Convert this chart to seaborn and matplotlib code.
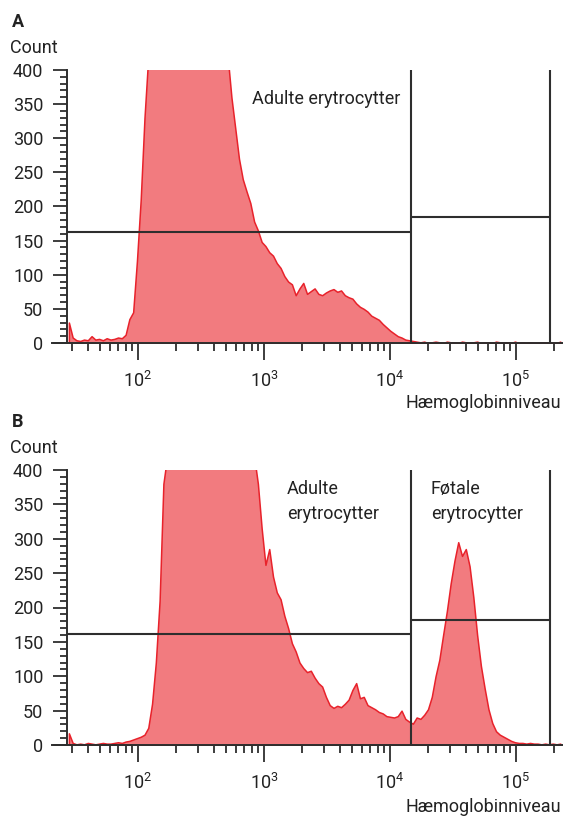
import numpy as np
import pandas as pd
import matplotlib
matplotlib.use("Agg")
import matplotlib.pyplot as plt
import seaborn as sns

# histogram bins: equal steps in log10(haemoglobin level)
log_start = 1.437
log_step = 0.03

# panel A: adult blood only (counts per bin, values above 400 are off scale)
counts_a = [30, 8, 4, 3, 5, 4, 10, 5, 6, 4, 7, 5, 6, 8, 7, 12, 35, 45, 120, 210, 330,
            420, 420, 420, 420, 420, 420, 420, 420, 420, 420, 420,
            420, 420, 420, 420, 420, 420, 420, 420, 420, 420, 420,
            360, 315, 270, 240, 222, 205, 178, 165, 148, 142, 133, 128, 117, 110,
            98, 90, 86, 70, 80, 88, 72, 76, 80, 72, 70, 74, 77, 79, 75, 77, 70,
            67, 65, 58, 53, 50, 46, 40, 37, 34, 28, 23, 18, 14, 10, 8, 5, 4, 3,
            2, 1, 2, 0, 1, 2, 1, 0, 2, 1, 1, 0, 2, 1, 0, 1, 2, 0, 1, 1,
            0, 2, 1, 0, 1, 0, 2, 0, 1, 0, 1, 0, 0, 1, 1, 0, 0, 0, 2]

# panel B: blood with foetal cells
counts_b = [17, 3, 1, 2, 1, 3, 2, 1, 2, 3, 2, 2, 3, 4, 3, 5, 6, 8, 10, 12, 15, 25,
            60, 120, 210, 380,
            420, 420, 420, 420, 420, 420, 420, 420, 420, 420, 420, 420,
            420, 420, 420, 420, 420, 420, 420, 420, 420, 420, 420, 420,
            380, 315, 262, 285, 245, 222, 212, 188, 170, 148, 136, 120, 112, 106,
            108, 98, 90, 85, 70, 58, 54, 57, 55, 60, 66, 80, 90, 68, 70, 58,
            55, 52, 48, 46, 42, 41, 40, 42, 50, 38, 34, 31, 40, 38, 44, 52,
            70, 100, 124, 160, 195, 235, 268, 295, 275, 285, 260, 215, 160, 115,
            82, 52, 32, 20, 15, 12, 9, 6, 4, 3, 3, 2, 3, 2, 2, 1, 2, 1, 2, 1, 2]

# gates
gate_split = 1.46e4
gate_end = 1.87e5
gate_level_a = [163, 185]
gate_level_b = [161, 182]

y_max = 400
x_labels = [2, 3, 4, 5]

fill_col = "#F27B7F"
edge_col = "#E8222B"
line_col = "#2E2E2E"
text_col = "#222222"

sns.set_style("ticks")
plt.rcParams["font.family"] = ["Roboto", "DejaVu Sans"]
plt.rcParams["mathtext.fontset"] = "custom"
plt.rcParams["mathtext.rm"] = "Roboto"
plt.rcParams["mathtext.it"] = "Roboto:italic"
plt.rcParams["mathtext.bf"] = "Roboto:bold"

W, H = 563, 816
fig = plt.figure(figsize=(W / 100, H / 100), dpi=100)

x_lo = log_start - 15 / 126
x_hi = log_start + 496 / 126

minor_x = np.log10(np.concatenate([np.arange(2, 10) * 10.0 ** d for d in range(1, 6)]))
minor_x = minor_x[(minor_x > log_start) & (minor_x < x_hi)]


def panel(ax, counts, levels):
    edges = log_start + log_step * np.arange(len(counts) + 1)
    df = pd.DataFrame({"level": (edges[:-1] + edges[1:]) / 2, "count": counts})
    sns.histplot(data=df, x="level", weights="count", bins=list(edges), element="poly",
                 fill=True, facecolor=fill_col, edgecolor=edge_col, linewidth=1.1,
                 alpha=1, ax=ax, zorder=1)

    g1, g2 = np.log10(gate_split), np.log10(gate_end)
    ax.vlines([g1, g2], 0, y_max, color=line_col, lw=1.5, zorder=3)
    ax.hlines(levels, [log_start, g1], [g1, g2], color=line_col, lw=1.5, zorder=3)

    ax.set_xlim(x_lo, x_hi)
    ax.set_ylim(0, y_max)
    ax.set_xlabel("")
    ax.set_ylabel("")
    sns.despine(ax=ax)
    ax.spines["left"].set_position(("data", log_start))
    for s in ["left", "bottom"]:
        ax.spines[s].set_linewidth(1.4)
        ax.spines[s].set_color(line_col)

    ax.set_xticks(x_labels)
    ax.set_xticklabels([f"$10^{{{v}}}$" for v in x_labels])
    ax.set_xticks(minor_x, minor=True)
    ax.set_yticks(np.arange(0, y_max + 1, 50))
    ax.set_yticks(np.arange(0, y_max + 1, 10), minor=True)

    ax.tick_params(axis="x", which="major", length=12, width=1.3, pad=8,
                   labelsize=13, color=line_col, labelcolor=text_col)
    ax.tick_params(axis="x", which="minor", length=6, width=1.3, color=line_col)
    ax.tick_params(axis="y", which="major", length=10, width=1.3, pad=7,
                   labelsize=13, color=line_col, labelcolor=text_col)
    ax.tick_params(axis="y", which="minor", length=5, width=1.3, color=line_col)
    ax.set_facecolor("white")


ax_a = fig.add_axes([52 / W, (H - 343) / H, 511 / W, 273 / H])
panel(ax_a, counts_a, gate_level_a)
ax_a.text(np.log10(804), 371, "Adulte erytrocytter", fontsize=13, color=text_col,
          ha="left", va="top")

ax_b = fig.add_axes([52 / W, (H - 745) / H, 511 / W, 275 / H])
panel(ax_b, counts_b, gate_level_b)
ax_b.text(np.log10(1524), 386, "Adulte\nerytrocytter", fontsize=13, color=text_col,
          ha="left", va="top", linespacing=1.5)
ax_b.text(np.log10(21100), 386, "Føtale\nerytrocytter", fontsize=13, color=text_col,
          ha="left", va="top", linespacing=1.5)

# panel letters and axis titles
for top, letter in [(27, "A"), (427, "B")]:
    fig.text(12 / W, 1 - top / H, letter, fontsize=13, fontweight="bold",
             color=text_col, ha="left", va="baseline")
    fig.text(10 / W, 1 - (top + 26) / H, "Count", fontsize=13, color=text_col,
             ha="left", va="baseline")

for base in [408, 812]:
    fig.text(561 / W, 1 - base / H, "Hæmoglobinniveau", fontsize=13, color=text_col,
             ha="right", va="baseline")

fig.savefig("out.png", dpi=100, facecolor="white")
